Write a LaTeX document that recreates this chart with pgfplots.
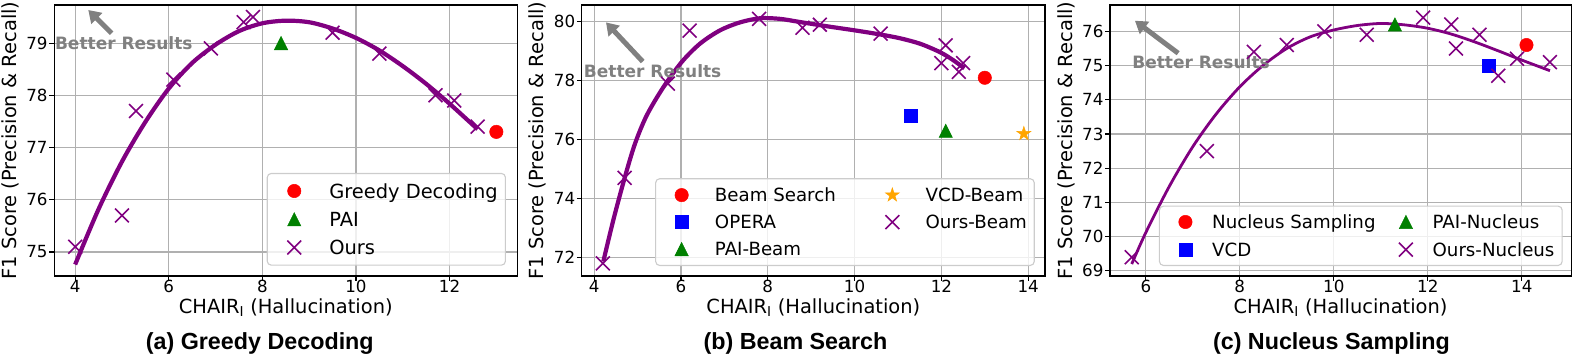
\documentclass[border=0pt]{standalone}
\usepackage{pgfplots}
\pgfplotsset{compat=1.18}
\usepackage{fontspec}
\setmainfont{DejaVu Sans}
\newfontfamily\capfont{Liberation Sans}
\usetikzlibrary{arrows.meta}

\definecolor{mpurple}{HTML}{800080}
\definecolor{mgreen}{HTML}{008000}
\definecolor{morange}{HTML}{FFA500}
\definecolor{mgray}{HTML}{808080}
\definecolor{gridc}{HTML}{B0B0B0}
\definecolor{legc}{HTML}{CCCCCC}

% matplotlib-like triangle and star
\pgfdeclareplotmark{mtri}{%
  \pgfpathmoveto{\pgfpoint{0pt}{\pgfplotmarksize}}%
  \pgfpathlineto{\pgfpoint{-\pgfplotmarksize}{-\pgfplotmarksize}}%
  \pgfpathlineto{\pgfpoint{\pgfplotmarksize}{-\pgfplotmarksize}}%
  \pgfpathclose\pgfusepathqfillstroke}
\pgfdeclareplotmark{mstar}{%
  \pgfpathmoveto{\pgfpointpolar{90}{\pgfplotmarksize}}%
  \pgfpathlineto{\pgfpointpolar{126}{0.382*\pgfplotmarksize}}%
  \pgfpathlineto{\pgfpointpolar{162}{\pgfplotmarksize}}%
  \pgfpathlineto{\pgfpointpolar{198}{0.382*\pgfplotmarksize}}%
  \pgfpathlineto{\pgfpointpolar{234}{\pgfplotmarksize}}%
  \pgfpathlineto{\pgfpointpolar{270}{0.382*\pgfplotmarksize}}%
  \pgfpathlineto{\pgfpointpolar{306}{\pgfplotmarksize}}%
  \pgfpathlineto{\pgfpointpolar{342}{0.382*\pgfplotmarksize}}%
  \pgfpathlineto{\pgfpointpolar{18}{\pgfplotmarksize}}%
  \pgfpathlineto{\pgfpointpolar{54}{0.382*\pgfplotmarksize}}%
  \pgfpathclose\pgfusepathqfillstroke}

\tikzset{
  betterarrow/.style={mgray, line width=5pt, -{Triangle[width=15pt,length=12pt]}},
  betternode/.style={anchor=base, text=mgray, inner sep=0pt, font=\bfseries\fontsize{17pt}{17pt}\selectfont},
}

\pgfplotsset{
  panel/.style={
    scale only axis, height=271pt,
    axis line style={black, line width=1.2pt},
    grid=major,
    major grid style={draw=gridc, line width=1.11pt},
    tick align=outside, tick pos=left,
    major tick length=4.86pt,
    every tick/.style={black, line width=1.11pt},
    /pgf/number format/assume math mode=true,
    tick label style={font=\fontsize{16.7pt}{16.7pt}\selectfont},
    xticklabel style={anchor=north, inner sep=0pt, yshift=0.5pt},
    yticklabel style={anchor=east, inner sep=0pt, xshift=-1.5pt},
    label style={font=\fontsize{19.44pt}{19.44pt}\selectfont},
    xlabel={CHAIR\textsubscript{I} (Hallucination)},
    ylabel={F1 Score (Precision \& Recall)},
    xlabel style={at={(axis description cs:0.5,-0.1376)}, anchor=base, inner sep=0pt},
    ylabel style={at={(axis description cs:-0.095,0.5)}, anchor=center, inner sep=0pt},
  },
  legbox/.style={
    draw=legc, line width=1.11pt, rounded corners=4pt,
    fill=white, fill opacity=0.8, text opacity=1,
    row sep=0pt, cells={anchor=west},
  },
  legA/.style={legend image code/.code={%
    \path[draw=none, fill=none] (-19.3pt,-14.15pt) rectangle (35pt,14.15pt);
    \draw[##1, only marks, sharp corners, fill opacity=1, draw opacity=1] plot coordinates {(0pt,0pt)};}},
  legB/.style={legend image code/.code={%
    \path[draw=none, fill=none] (-18.7pt,-13.5pt) rectangle (33.3pt,13.5pt);
    \draw[##1, only marks, sharp corners, fill opacity=1, draw opacity=1] plot coordinates {(0pt,0pt)};}},
  legC/.style={legend image code/.code={%
    \path[draw=none, fill=none] (-18.3pt,-13.8pt) rectangle (26.7pt,13.8pt);
    \draw[##1, only marks, sharp corners, fill opacity=1, draw opacity=1] plot coordinates {(0pt,0pt)};}},
  mcirc/.style={only marks, mark=*, mark size=6.7pt, line width=0.5pt},
  msq/.style={only marks, mark=square*, mark size=6.6pt, line width=0.5pt},
  mtr/.style={only marks, mark=mtri, mark size=6.7pt, line width=0.5pt},
  mst/.style={only marks, mark=mstar, mark size=7.3pt, line width=0.5pt},
  mx/.style={only marks, mark=x, mark size=9.8pt, line width=1.6pt, mpurple},
}

\begin{document}
\begin{tikzpicture}
\path[use as bounding box] (0pt,0pt) rectangle (1577pt,357pt);

% (a) Greedy Decoding
\begin{axis}[panel,
  at={(54.1pt,81pt)}, anchor=south west, width=463.3pt,
  xmin=3.55, xmax=13.45, ymin=74.54, ymax=79.73,
  xtick={4,6,8,10,12}, ytick={75,76,77,78,79},
  legend style={legbox, at={(rel axis cs:1,0)}, anchor=south east,
    xshift=-11.4pt, yshift=10.3pt, inner xsep=7.7pt, inner ysep=3.4pt,
    font=\fontsize{19.44pt}{19.44pt}\selectfont,
    nodes={draw=none, fill=none, inner sep=0pt, text height=16.1pt, text depth=2pt}},
]
\addplot[mpurple, line width=4.2pt, smooth, no marks, forget plot] coordinates {
  (4.0,74.76)(4.5,75.82)(5.0,76.73)(5.5,77.49)(6.0,78.13)(6.5,78.62)(7.0,78.97)
  (7.5,79.23)(8.0,79.38)(8.5,79.43)(9.0,79.40)(9.5,79.28)(10.0,79.10)(10.5,78.86)
  (11.0,78.56)(11.5,78.22)(12.0,77.84)(12.6,77.35)};
\addplot[red, mcirc, legA] coordinates {(13.0,77.3)};
\addlegendentry{Greedy Decoding}
\addplot[mgreen, mtr, legA] coordinates {(8.4,79.0)};
\addlegendentry{PAI}
\addplot[mx, legA] coordinates {
  (4.0,75.1)(5.0,75.7)(5.3,77.7)(6.1,78.3)(6.9,78.9)(7.6,79.4)(7.8,79.5)
  (9.5,79.2)(10.5,78.8)(11.7,78.0)(12.1,77.9)(12.6,77.4)};
\addlegendentry{Ours}
\draw[betterarrow] (axis cs:4.781,79.189) -- (axis cs:4.281,79.634);
\node[betternode] at (axis cs:5.039,78.883) {Better Results};
\end{axis}

% (b) Beam Search
\begin{axis}[panel,
  at={(581.8pt,81pt)}, anchor=south west, width=463.1pt,
  xmin=3.715, xmax=14.385, ymin=71.37, ymax=80.57,
  xtick={4,6,8,10,12,14}, ytick={72,74,76,78,80},
  legend columns=2,
  legend style={legbox, at={(rel axis cs:1,0)}, anchor=south east,
    xshift=-10.1pt, yshift=10pt, inner xsep=7.3pt, inner ysep=2.85pt,
    font=\fontsize{18.2pt}{18.2pt}\selectfont,
    nodes={draw=none, fill=none, inner sep=0pt, text height=15.3pt, text depth=2pt},
    /tikz/every even column/.append style={column sep=37.8pt}},
]
\addplot[mpurple, line width=4.2pt, smooth, no marks, forget plot] coordinates {
  (4.21,71.86)(4.45,73.32)(4.71,74.74)(4.94,75.86)(5.21,76.82)(5.59,77.77)
  (6.02,78.64)(6.44,79.26)(6.90,79.71)(7.36,79.98)(7.82,80.12)(8.28,80.10)
  (8.75,79.99)(9.4,79.84)(10.0,79.71)(10.59,79.57)(11.05,79.44)(11.52,79.25)
  (11.98,78.96)(12.28,78.69)(12.53,78.42)};
\addplot[red, mcirc, legB] coordinates {(13.0,78.1)};
\addlegendentry{Beam Search}
\addplot[morange, mst, legB] coordinates {(13.9,76.2)};
\addlegendentry{VCD-Beam}
\addplot[blue, msq, legB] coordinates {(11.3,76.8)};
\addlegendentry{OPERA}
\addplot[mx, legB] coordinates {
  (4.2,71.8)(4.7,74.7)(5.7,77.9)(6.2,79.7)(7.8,80.1)(8.8,79.8)(9.2,79.9)
  (10.6,79.6)(12.0,78.6)(12.1,79.2)(12.4,78.3)(12.5,78.6)};
\addlegendentry{Ours-Beam}
\addplot[mgreen, mtr, legB] coordinates {(12.1,76.3)};
\addlegendentry{PAI-Beam}
\draw[betterarrow] (axis cs:5.119,78.65) -- (axis cs:4.273,79.98);
\node[betternode] at (axis cs:5.347,78.12) {Better Results};
\end{axis}

% (c) Nucleus Sampling
\begin{axis}[panel,
  at={(1110pt,81pt)}, anchor=south west, width=461.1pt,
  xmin=5.238, xmax=15.05, ymin=68.85, ymax=76.77,
  xtick={6,8,10,12,14}, ytick={69,70,71,72,73,74,75,76},
  legend columns=2,
  legend style={legbox, at={(rel axis cs:1,0)}, anchor=south east,
    xshift=-8.4pt, yshift=10pt, inner xsep=7.7pt, inner ysep=2.05pt,
    font=\fontsize{18.2pt}{18.2pt}\selectfont,
    nodes={draw=none, fill=none, inner sep=0pt, text height=15.3pt, text depth=2pt},
    /tikz/every even column/.append style={column sep=12.1pt}},
]
\addplot[mpurple, line width=2.8pt, smooth, no marks, forget plot] coordinates {
  (5.7,69.20)(6.0,70.12)(6.5,71.47)(7.0,72.63)(7.5,73.59)(8.0,74.38)(8.5,75.01)
  (9.0,75.50)(9.5,75.84)(10.0,76.04)(10.5,76.17)(11.0,76.23)(11.5,76.19)
  (12.0,76.09)(12.5,75.92)(13.0,75.69)(13.5,75.43)(14.0,75.16)(14.6,74.85)};
\addplot[red, mcirc, legC] coordinates {(14.1,75.6)};
\addlegendentry{Nucleus Sampling}
\addplot[mgreen, mtr, legC] coordinates {(11.3,76.2)};
\addlegendentry{PAI-Nucleus}
\addplot[blue, msq, legC] coordinates {(13.3,75.0)};
\addlegendentry{VCD}
\addplot[mx, legC] coordinates {
  (5.7,69.4)(7.3,72.5)(8.3,75.4)(9.0,75.6)(9.8,76.0)(10.7,75.9)(11.9,76.4)
  (12.5,76.2)(12.6,75.5)(13.1,75.9)(13.5,74.7)(13.9,75.2)(14.6,75.1)};
\addlegendentry{Ours-Nucleus}
\draw[betterarrow] (axis cs:6.688,75.36) -- (axis cs:5.769,76.31);
\node[betternode] at (axis cs:7.175,74.90) {Better Results};
\end{axis}

% sub-captions
\begin{scope}[every node/.style={anchor=base, inner sep=0pt, font=\capfont\bfseries\fontsize{23.3pt}{23.3pt}\selectfont}]
\node at (259.8pt,8pt) {(a) Greedy Decoding};
\node at (795.5pt,8pt) {(b) Beam Search};
\node at (1331.5pt,8pt) {(c) Nucleus Sampling};
\end{scope}
\end{tikzpicture}
\end{document}
